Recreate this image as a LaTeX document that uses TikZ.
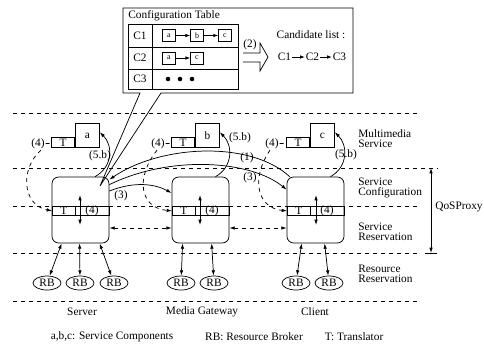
\documentclass[tikz,border=0pt]{standalone}
\usepackage{fontspec}
\setmainfont{Liberation Serif}
\usetikzlibrary{arrows.meta,shapes.geometric,calc}
\begin{document}
\begin{tikzpicture}[x=0.75pt,y=-0.75pt,line width=0.55pt,
  font=\fontsize{8.5}{7.5}\selectfont,
  >={Latex[length=4pt,width=2.6pt]},
  layer/.style={dash pattern=on 3pt off 3pt},
  hostbox/.style={draw, rounded corners=5pt, minimum width=42.75pt, minimum height=49.5pt, inner sep=0pt},
  tcell/.style={draw, minimum width=17.25pt, minimum height=6.75pt, inner sep=0pt, anchor=north west},
  comp/.style={draw, minimum width=18pt, minimum height=18pt, inner sep=0pt, anchor=south west},
  ttag/.style={draw, minimum width=17.25pt, minimum height=7.5pt, inner sep=0pt, anchor=south east},
  rb/.style={draw, ellipse, minimum width=21pt, minimum height=10.5pt, inner sep=0pt},
  sbox/.style={draw, minimum width=9.75pt, minimum height=9pt, inner sep=0pt, font=\fontsize{6}{6}\selectfont},
  lbl/.style={inner sep=0.5pt},
  side/.style={anchor=west, align=left, inner sep=0pt},
  tabarrow/.style={-{Latex[length=3.5pt,width=2.6pt]}}
]
\useasboundingbox (0,0) rectangle (484,343);

% layer separators
\draw[layer] (13,113) -- (417,113);
\draw[layer] (13,168) -- (438,168);
\draw[layer] (13,206) -- (417,206);
\draw[layer] (13,253) -- (417,253);
\draw[layer] (13,301) -- (417,301);

% hosts
\node[hostbox] (srv) at (80.5,210) {};
\node[hostbox] (mg)  at (200.5,210) {};
\node[hostbox] (cl)  at (315.5,210) {};

% translator strips inside the hosts
\node[tcell] (srvT) at (52,206) {T};
\node[tcell] (mgT)  at (172,206) {T};
\node[tcell] (clT)  at (287,206) {T};
\draw (srvT.north east) rectangle (srvT.south -| srv.east);
\draw (mgT.north east) rectangle (mgT.south -| mg.east);
\draw (clT.north east) rectangle (clT.south -| cl.east);

\coordinate (srvU) at (80,195);  \coordinate (srvD) at (80,225);
\coordinate (mgU)  at (200,195); \coordinate (mgD)  at (200,225);
\coordinate (clU)  at (316,195); \coordinate (clD)  at (316,225);
\draw[<->] (srvU) -- (srvD);
\draw[<->] (mgU) -- (mgD);
\draw[<->] (clU) -- (clD);
\node[lbl] (srv4) at (92,210.5) {(4)};
\node[lbl] (mg4)  at (212,210.5) {(4)};
\node[lbl] (cl4)  at (327,210.5) {(4)};

% service components with their translators
\node[comp] (ca) at (75,148) {a};
\node[ttag] (caT) at (ca.south west) {T};
\node[comp] (cb) at (195,148) {b};
\node[ttag] (cbT) at (cb.south west) {T};
\node[comp] (cc) at (310,148) {c};
\node[ttag] (ccT) at (cc.south west) {T};

\node[lbl] (ta4) at (38,144) {(4)};
\node[lbl] (tb4) at (158,144) {(4)};
\node[lbl] (tc4) at (272,144) {(4)};
\draw[layer] (ta4) -- (caT);
\draw[layer] (tb4) -- (cbT);
\draw[layer] (tc4) -- (ccT);
\draw[layer,->] ($(ta4.south)+(3,0)$) .. controls (20,168) and (22,205) .. (srvT.west);
\draw[layer,->] ($(tb4.south)+(-1,0)$) .. controls (135,178) and (140,208) .. (mgT.west);
\draw[layer,->] ($(tc4.south)+(-2,0)$) .. controls (250,180) and (258,208) .. (clT.west);

% (5.b) instantiation arrows
\draw[->] ($(srv.north)+(14.5,0)$) .. controls (113,167) and (113,145) .. ($(ca.north east)+(0,9)$);
\draw[->] ($(mg.north)+(15,0)$) .. controls (233,167) and (233,145) .. ($(cb.north east)+(0,9)$);
\draw[->] ($(cl.north)+(15,0)$) .. controls (348,167) and (348,145) .. ($(cc.north east)+(0,9)$);
\node[lbl] (s5b) at (100,156) {(5.b)};
\node[lbl] (m5b) at (240,138) {(5.b)};
\node[lbl] (c5b) at (346,155) {(5.b)};

% (1) and (3) signalling
\draw[->] ($(cl.north west)+(3,0)$) .. controls (250,140) and (160,145) .. ($(srv.north east)+(0,3)$);
\draw[->] ($(srv.north east)+(0,8)$) .. controls (170,155) and (250,160) .. ($(cl.north west)+(0,13)$);
\draw[->] ($(srv.east)+(0,-19)$) .. controls (135,181) and (155,184) .. ($(mg.west)+(0,-17)$);
\node[lbl] (l1) at (247,158) {(1)};
\node[lbl] (l3c) at (250,178) {(3)};
\node[lbl] (l3m) at (121,196) {(3)};

% reservation exchanges
\draw[layer,<->] ($(srv.east)+(0,18)$) -- ($(mg.west)+(0,18)$);
\draw[layer,<->] ($(mg.east)+(0,18)$) -- ($(cl.west)+(0,18)$);

% resource brokers
\node[rb] (rs1) at (47,283) {RB};
\node[rb] (rs2) at (80,283) {RB};
\node[rb] (rs3) at (114,283) {RB};
\node[rb] (rm1) at (181,283) {RB};
\node[rb] (rm2) at (214,283) {RB};
\node[rb] (rc1) at (296,283) {RB};
\node[rb] (rc2) at (329,283) {RB};
\draw[<->] ($(srv.south west)+(10,0)$) -- (rs1);
\draw[<->] ($(srv.south west)+(28,0)$) -- (rs2);
\draw[<->] ($(srv.south west)+(48,0)$) -- (rs3);
\draw[<->] ($(mg.south west)+(11,0)$) -- (rm1);
\draw[<->] ($(mg.south west)+(40,0)$) -- (rm2);
\draw[<->] ($(cl.south west)+(15,0)$) -- (rc1);
\draw[<->] ($(cl.south west)+(38,0)$) -- (rc2);

% QoSProxy extent
\coordinate (qtop) at (431,168);
\coordinate (qbot) at (431,253);
\draw[<->] (qtop) -- (qbot);
\draw ($(qbot)+(-6,0)$) -- ($(qbot)+(6,0)$);
\node[side] (qos) at (435,207) {QoSProxy};

% layer names
\node[side] (nMM) at (358,139) {Multimedia\\Service};
\node[side] (nSC) at (358,187.5) {Service\\Configuration};
\node[side] (nSR) at (358,231.5) {Service\\Reservation};
\node[side] (nRR) at (358,274) {Resource\\Reservation};

% host names and legend
\node (hS) at (82,312) {Server};
\node (hM) at (202,312) {Media Gateway};
\node (hC) at (315,312) {Client};
\node (lg1) at (112,337) {a,b,c: Service Components};
\node (lg2) at (254,337) {RB: Resource Broker};
\node (lg3) at (354,337) {T: Translator};

% configuration table callout
\coordinate (tip) at (100,186);
\draw (tip) -- (140,93) -- (123,93) -- (123,8) -- (353,8) -- (353,93) -- (161,93) -- cycle;
\node[anchor=west, inner sep=0pt] (cfgtitle) at (128,16) {Configuration Table};
\draw (128,24) rectangle (238,89);
\draw (128,47) -- (238,47);
\draw (128,69) -- (238,69);
\draw (152,24) -- (152,89);
\node (r1) at (140,35.5) {C1};
\node (r2) at (140,58) {C2};
\node (r3) at (140,79) {C3};
\node[sbox] (a1) at (169,35.5) {a};
\node[sbox] (b1) at (197,35.5) {b};
\node[sbox] (c1) at (225,35.5) {c};
\draw[tabarrow] (a1) -- (b1);
\draw[tabarrow] (b1) -- (c1);
\node[sbox] (a2) at (169,58) {a};
\node[sbox] (c2) at (197,58) {c};
\draw[tabarrow] (a2) -- (c2);
\fill (168,79) circle[radius=1.7pt] (180,79) circle[radius=1.7pt] (192,79) circle[radius=1.7pt];

% selection step
\draw (243,53) -- (260,53) -- (260,43) -- (268,57) -- (260,71) -- (260,62) -- (243,62);
\node[lbl] (two) at (250,45) {(2)};
\node (cand) at (311,35) {Candidate list :};
\node[inner sep=0.5pt] (k1) at (284.5,57) {C1};
\node[inner sep=0.5pt] (k2) at (312.5,57) {C2};
\node[inner sep=0.5pt] (k3) at (339.5,57) {C3};
\draw[tabarrow] (k1) -- (k2);
\draw[tabarrow] (k2) -- (k3);
\end{tikzpicture}
\end{document}
